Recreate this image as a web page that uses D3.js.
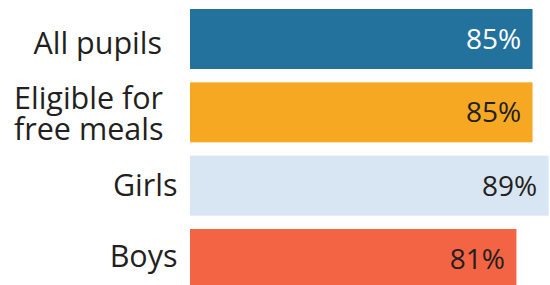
<!DOCTYPE html>
<html>
<head>
<meta charset="utf-8">
<script src="https://cdn.jsdelivr.net/npm/d3@7"></script>
<style>
  html, body { margin: 0; padding: 0; background: #fff; }
  svg { display: block; font-family: "Open Sans", sans-serif; }
</style>
</head>
<body>
<div id="container"></div>
<script>
const WIDTH = 550;
const HEIGHT = 285;

// data
var categories = ["All pupils", "Eligible for free meals", "Girls", "Boys"];
var labelLines = [["All pupils"], ["Eligible for", "free meals"], ["Girls"], ["Boys"]];
var values = [85, 85, 89, 81];
var colors = ["#23729e", "#f7a823", "#d8e6f3", "#f26444"];
var textColors = ["#ffffff", "#231f20", "#231f20", "#231f20"];

// label placement (layout only)
var labelAnchor = ["end", "start", "end", "end"];
var labelX = [162, 14, 177.5, 177.5];

var drawChart = function () {
    var svg = d3.select("#container").append("svg")
        .attr("width", WIDTH)
        .attr("height", HEIGHT);

    var x = d3.scaleLinear().domain([0, 100]).range([190, 190 + 403]);
    var y = d3.scaleBand().domain(categories).range([9, 289])
        .paddingInner(0.182).paddingOuter(0);
    var yLabel = d3.scalePoint().domain(categories).range([43, 256.5]);

    var rows = categories.map(function (c, i) {
        return { name: c, value: values[i], color: colors[i], text: textColors[i], lines: labelLines[i], i: i };
    });

    svg.selectAll("rect.bar")
        .data(rows)
        .enter().append("rect")
        .classed("bar", true)
        .attr("x", x(0))
        .attr("y", function (d) { return y(d.name); })
        .attr("width", function (d) { return x(d.value) - x(0); })
        .attr("height", y.bandwidth())
        .attr("fill", function (d) { return d.color; });

    svg.selectAll("text.value")
        .data(rows)
        .enter().append("text")
        .classed("value", true)
        .attr("x", function (d) { return x(d.value) - 11.5; })
        .attr("y", function (d) { return y(d.name) + y.bandwidth() / 2 + 10; })
        .attr("text-anchor", "end")
        .attr("font-size", 28)
        .attr("fill", function (d) { return d.text; })
        .text(function (d) { return d.value + "%"; });

    var labels = svg.selectAll("text.label")
        .data(rows)
        .enter().append("text")
        .classed("label", true)
        .attr("text-anchor", function (d) { return labelAnchor[d.i]; })
        .attr("font-size", 30.5)
        .attr("fill", "#231f20");

    labels.selectAll("tspan")
        .data(function (d) {
            var n = d.lines.length;
            return d.lines.map(function (l, j) {
                return { t: l, x: labelX[d.i], y: yLabel(d.name) + 10.5 + (j - (n - 1) / 2) * 31.6 };
            });
        })
        .enter().append("tspan")
        .attr("x", function (d) { return d.x; })
        .attr("y", function (d) { return d.y; })
        .text(function (d) { return d.t; });
};

window.onload = drawChart;
</script>
</body>
</html>
